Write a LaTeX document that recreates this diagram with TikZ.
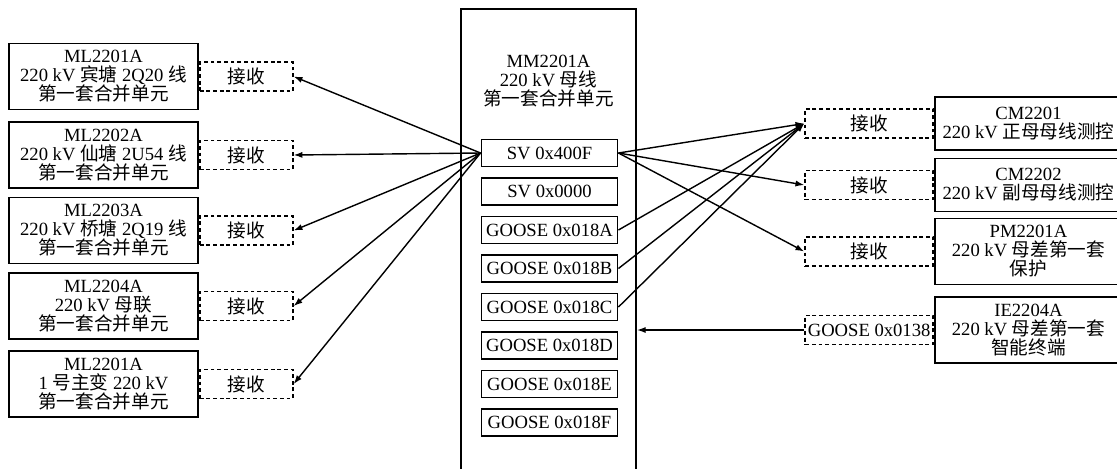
\documentclass[tikz,border=0pt]{standalone}
\usepackage{fontspec}
\setmainfont{Liberation Serif}
\newfontfamily\cjk{Noto Sans CJK SC}
\newcommand{\zhw}[1]{{\cjk #1}}
\usetikzlibrary{arrows.meta,positioning}

\tikzset{
	every node/.style={font=\fontsize{10.6}{10.8}\selectfont},
	unit/.style={draw, line width=1.1pt, align=center, minimum width=3.78cm, minimum height=1.32cm, inner sep=1pt},
	recv/.style={draw, dash pattern=on 2.2pt off 1.6pt, line width=1pt, minimum width=1.86cm, minimum height=0.58cm, inner sep=1pt},
	sig/.style={draw, line width=1.1pt, minimum width=2.72cm, minimum height=0.54cm, inner sep=1pt},
	link/.style={-{Latex[length=5pt,width=3.5pt]}, line width=0.8pt},
}

\begin{document}
\begin{tikzpicture}[x=0.02cm, y=-0.02cm]
	\useasboundingbox (0,0) rectangle (1117,468);
	% merging unit in the middle
	\node[draw, line width=1.1pt, minimum width=3.5cm, minimum height=9.6cm, anchor=north] (mm) at (548.5,8) {};
	\node[align=center] (mmt) at (548.5,81) {MM2201A\\220 kV \zhw{母线}\\\zhw{第一套合并单元}};
	\node[sig] (sv1) at (549.5,153) {SV 0x400F};
	\node[sig] (sv2) at (549.5,191.5) {SV 0x0000};
	\foreach \n/\y in {A/230, B/268.5, C/307, D/345.5, E/384, F/422.5}
		\node[sig] (g\n) at (549.5,\y) {GOOSE 0x018\n};

	% left side
	\node[unit, anchor=west] (lb1) at (8,76.5) {ML2201A\\220 kV \zhw{宾塘} 2Q20 \zhw{线}\\\zhw{第一套合并单元}};
	\node[unit, anchor=west] (lb2) at (8,155) {ML2202A\\220 kV \zhw{仙塘} 2U54 \zhw{线}\\\zhw{第一套合并单元}};
	\node[unit, anchor=west] (lb3) at (8,230.5) {ML2203A\\220 kV \zhw{桥塘} 2Q19 \zhw{线}\\\zhw{第一套合并单元}};
	\node[unit, anchor=west] (lb4) at (8,306) {ML2204A\\220 kV \zhw{母联}\\\zhw{第一套合并单元}};
	\node[unit, anchor=west] (lb5) at (8,384) {ML2201A\\1 \zhw{号主变} 220 kV\\\zhw{第一套合并单元}};
	\foreach \i in {1,...,5}
		\node[recv, right=0pt of lb\i] (lr\i) {\zhw{接收}};

	% right side
	\node[unit, minimum height=1.06cm, minimum width=3.74cm, anchor=west] (rb1) at (934,123.5) {CM2201\\220 kV \zhw{正母母线测控}};
	\node[unit, minimum height=1.06cm, minimum width=3.74cm, anchor=west] (rb2) at (934,185) {CM2202\\220 kV \zhw{副母母线测控}};
	\node[unit, minimum width=3.74cm, anchor=west] (rb3) at (934,251.5) {PM2201A\\220 kV \zhw{母差第一套}\\\zhw{保护}};
	\node[unit, minimum width=3.74cm, anchor=west] (rb4) at (934,330) {IE2204A\\220 kV \zhw{母差第一套}\\\zhw{智能终端}};
	\foreach \i in {1,2,3}
		\node[recv, minimum width=2.56cm, left=0pt of rb\i] (rr\i) {\zhw{接收}};
	\node[recv, minimum width=2.56cm, left=0pt of rb4] (rr4) {GOOSE 0x0138};

	\foreach \i in {1,...,5}
		\draw[link] (sv1.west) -- (lr\i.east);
	\foreach \i in {1,2,3}
		\draw[link] (sv1.east) -- (rr\i.west);
	\foreach \n in {A,B,C}
		\draw[link] (g\n.east) -- (rr1.west);
	\draw[link] (rr4.west) -- (rr4.west -| mm.east);
\end{tikzpicture}
\end{document}
